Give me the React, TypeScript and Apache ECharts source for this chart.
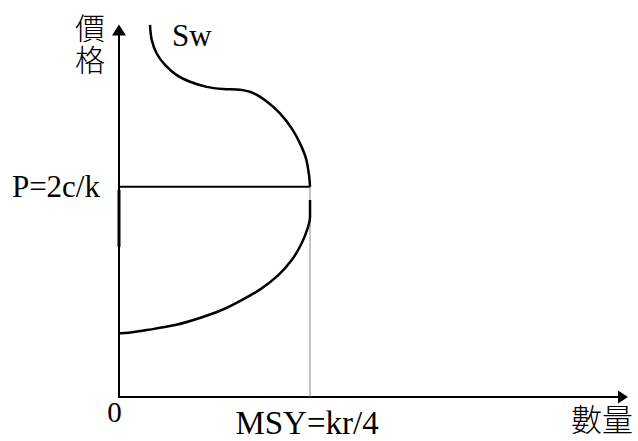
import React, { useEffect, useRef } from "react";
import * as echarts from "echarts";

// Quantity / price in arbitrary axis units (x: 0-100, y: 0-100)
const MSY = 37.9;
const P = 57.3;

// Upper branch of the supply curve Sw (quantity, price)
const upperQty = [6.15, 6.49, 7.48, 9.13, 11.45, 14.09, 17.4, 20.69, 24.01, 26.65, 29.31, 31.94, 34.27, 35.91, 37.1, 37.7, 37.9];
const upperPrice = [101.4, 97.3, 93.6, 90.5, 87.7, 85.9, 84.5, 83.9, 83.7, 82.8, 80.5, 77.3, 73.2, 69.1, 65.0, 60.5, 57.3];

// Lower branch of the supply curve
const lowerQty = [37.9, 37.9, 37.44, 36.25, 34.27, 31.61, 28.31, 24.35, 20.38, 15.73, 11.11, 5.81, 1.85, 0.2];
const lowerPrice = [53.7, 49.1, 46.0, 41.9, 37.3, 33.2, 29.6, 26.4, 23.7, 21.4, 19.6, 18.3, 17.5, 17.4];

// Dark stroke on the price axis
const axisMarkPrice = [56.4, 40.9];

const xTickValues = [0, MSY];
const xTickLabels = ["0", "MSY=kr/4"];
const yTickValues = [P];
const yTickLabels = ["P=2c/k"];

const xName = "數量";
const yName = "價\n格";
const curveName = "Sw";

const SERIF = "'Liberation Serif', 'Times New Roman', serif";
const CJK = "'Noto Sans CJK TC', 'Noto Sans CJK SC', sans-serif";

export default function App() {
  const ref = useRef<HTMLDivElement>(null);

  useEffect(() => {
    if (!ref.current) return;
    const chart = echarts.init(ref.current, null, { renderer: "svg" });
    const zip = (a: number[], b: number[]) => a.map((v, i) => [v, b[i]]);
    chart.setOption({
      animation: false,
      backgroundColor: "#fff",
      grid: { left: 119, right: 15, top: 30, bottom: 44, containLabel: false, outerBoundsMode: "none" },
      xAxis: {
        type: "value",
        min: 0,
        max: 100,
        splitLine: { show: false },
        axisTick: { show: false },
        axisLine: {
          onZero: false,
          symbol: ["none", "triangle"],
          symbolSize: [13, 10],
          lineStyle: { color: "#000", width: 2 },
        },
        axisLabel: {
          customValues: xTickValues,
          margin: 0,
          color: "#000",
          fontFamily: SERIF,
          formatter: (v: number) => {
            const i = xTickValues.indexOf(v);
            const t = i >= 0 ? xTickLabels[i] : "";
            return i === 0 ? `{z|${t}}` : `{m|${t}}`;
          },
          rich: {
            z: { fontSize: 29, fontFamily: SERIF, color: "#000", padding: [0, 9, 0, 0] },
            m: { fontSize: 33, fontFamily: SERIF, color: "#000", padding: [9, 6, 0, 0] },
          },
        },
        name: xName,
        nameLocation: "end",
        nameGap: 10,
        nameTextStyle: {
          fontFamily: CJK,
          fontWeight: 300,
          fontSize: 31,
          color: "#000",
          align: "right",
          verticalAlign: "top",
          padding: [5, 0, 0, 0],
        },
      },
      yAxis: {
        type: "value",
        min: 0,
        max: 100,
        splitLine: { show: false },
        axisTick: { show: false },
        axisLine: {
          onZero: false,
          symbol: ["none", "triangle"],
          symbolSize: [14, 11],
          lineStyle: { color: "#000", width: 2 },
        },
        axisLabel: {
          customValues: yTickValues,
          margin: 19,
          color: "#000",
          fontFamily: SERIF,
          fontSize: 31,
          padding: [0, 0, 4, 0],
          formatter: (v: number) => {
            const i = yTickValues.indexOf(v);
            return i >= 0 ? yTickLabels[i] : "";
          },
        },
        name: yName,
        nameLocation: "end",
        nameGap: 20,
        nameTextStyle: {
          fontFamily: CJK,
          fontWeight: 300,
          fontSize: 30,
          lineHeight: 32,
          color: "#000",
          align: "right",
          verticalAlign: "top",
          padding: [0, 14, 0, 0],
        },
      },
      graphic: [
        {
          type: "text",
          left: 172,
          top: 20,
          style: { text: curveName, fontFamily: SERIF, fontSize: 31, fill: "#000" },
        },
      ],
      series: [
        {
          type: "line",
          data: zip([MSY, MSY], [0, P]),
          showSymbol: false,
          lineStyle: { color: "#888", width: 1 },
          clip: false,
          z: 1,
        },
        {
          type: "line",
          data: zip([0, MSY], [P, P]),
          showSymbol: false,
          lineStyle: { color: "#000", width: 2 },
          clip: false,
          z: 2,
        },
        {
          type: "line",
          data: zip([0, 0], axisMarkPrice),
          showSymbol: false,
          lineStyle: { color: "#000", width: 3 },
          clip: false,
          z: 3,
        },
        {
          type: "line",
          data: zip(upperQty, upperPrice),
          smooth: 0.3,
          showSymbol: false,
          lineStyle: { color: "#000", width: 2.5 },
          clip: false,
          z: 4,
        },
        {
          type: "line",
          data: zip(lowerQty, lowerPrice),
          smooth: 0.3,
          showSymbol: false,
          lineStyle: { color: "#000", width: 2.5 },
          clip: false,
          z: 4,
        },
      ],
    });
    return () => chart.dispose();
  }, []);

  return (
    <div
      ref={ref}
      style={{ position: "absolute", left: 0, top: 0, width: 638, height: 441, background: "#fff" }}
    />
  );
}
